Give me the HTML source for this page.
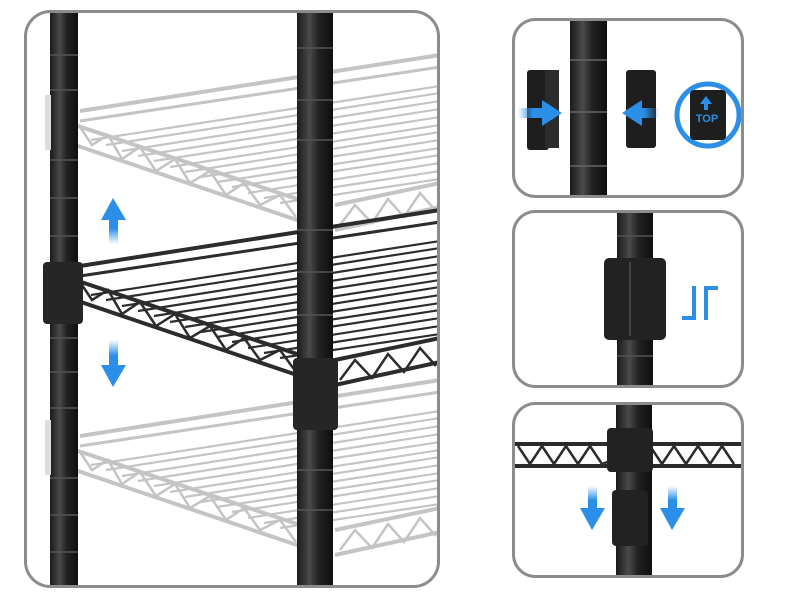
<!DOCTYPE html>
<html><head><meta charset="utf-8"><style>
html,body{margin:0;padding:0;background:#fff;width:800px;height:600px;overflow:hidden}
</style></head><body>
<svg width="800" height="600" viewBox="0 0 800 600" xmlns="http://www.w3.org/2000/svg">
<defs>
<linearGradient id="pole" x1="0" x2="1"><stop offset="0" stop-color="#1a1a1a"/><stop offset="0.35" stop-color="#4a4a4a"/><stop offset="0.6" stop-color="#222"/><stop offset="1" stop-color="#0e0e0e"/></linearGradient>
<linearGradient id="au" x1="0" y1="1" x2="0" y2="0"><stop offset="0" stop-color="#2b8fe8" stop-opacity="0"/><stop offset="0.6" stop-color="#2b8fe8"/></linearGradient>
<linearGradient id="ad" x1="0" y1="0" x2="0" y2="1"><stop offset="0" stop-color="#2b8fe8" stop-opacity="0"/><stop offset="0.6" stop-color="#2b8fe8"/></linearGradient>
<linearGradient id="ar" x1="0" x2="1"><stop offset="0" stop-color="#2b8fe8" stop-opacity="0"/><stop offset="0.6" stop-color="#2b8fe8"/></linearGradient>
<linearGradient id="al" x1="1" x2="0"><stop offset="0" stop-color="#2b8fe8" stop-opacity="0"/><stop offset="0.6" stop-color="#2b8fe8"/></linearGradient>
<clipPath id="cl"><rect x="26" y="12" width="412" height="574" rx="24"/></clipPath>
<clipPath id="c1"><rect x="514" y="20" width="228" height="176" rx="20"/></clipPath>
<clipPath id="c2"><rect x="514" y="212" width="228" height="174" rx="20"/></clipPath>
<clipPath id="c3"><rect x="514" y="404" width="228" height="172" rx="20"/></clipPath>
<g id="shelf" fill="none" stroke="currentColor">
<line x1="80" y1="266" x2="440" y2="210" stroke-width="4"/>
<line x1="80" y1="276" x2="440" y2="222" stroke-width="3"/>
<line x1="75" y1="280" x2="300" y2="355" stroke-width="4"/>
<line x1="75" y1="300" x2="300" y2="376" stroke-width="4"/>
<polyline points="80,282 92,300 108,290 122,314 140,302 156,326 175,314 190,338 210,326 226,350 244,338 260,360 280,350 296,372" stroke-width="2.5"/>
<line x1="335" y1="360" x2="440" y2="338" stroke-width="4"/>
<line x1="335" y1="385" x2="440" y2="362" stroke-width="4"/>
<polyline points="340,380 355,360 372,378 388,354 404,372 420,348 436,366" stroke-width="2.5"/>
<g stroke-width="2.2">
<line x1="91" y1="295" x2="440" y2="241"/><line x1="106" y1="300" x2="440" y2="248"/><line x1="122" y1="306" x2="440" y2="256"/><line x1="138" y1="311" x2="440" y2="264"/><line x1="154" y1="316" x2="440" y2="272"/><line x1="170" y1="322" x2="440" y2="280"/><line x1="185" y1="327" x2="440" y2="287"/><line x1="201" y1="332" x2="440" y2="295"/><line x1="217" y1="337" x2="440" y2="303"/><line x1="232" y1="342" x2="440" y2="310"/><line x1="248" y1="348" x2="440" y2="318"/><line x1="264" y1="353" x2="440" y2="326"/><line x1="280" y1="358" x2="440" y2="334"/>
</g>
</g>
</defs>

<g clip-path="url(#cl)">
<rect x="26" y="12" width="412" height="574" fill="#fff"/>
<use href="#shelf" transform="translate(0,-155)" style="color:#c4c4c4"/>
<use href="#shelf" transform="translate(0,170)" style="color:#c4c4c4"/>
<use href="#shelf" style="color:#2c2c2c"/>
<rect x="50" y="10" width="28" height="580" fill="url(#pole)"/>
<g stroke="#555" stroke-width="1.5">
<line x1="50" y1="55" x2="78" y2="55"/><line x1="50" y1="90" x2="78" y2="90"/><line x1="50" y1="160" x2="78" y2="160"/><line x1="50" y1="198" x2="78" y2="198"/><line x1="50" y1="236" x2="78" y2="236"/><line x1="50" y1="338" x2="78" y2="338"/><line x1="50" y1="372" x2="78" y2="372"/><line x1="50" y1="408" x2="78" y2="408"/><line x1="50" y1="478" x2="78" y2="478"/><line x1="50" y1="515" x2="78" y2="515"/><line x1="50" y1="552" x2="78" y2="552"/>
</g>
<rect x="45" y="95" width="6" height="55" fill="#ddd"/><rect x="45" y="420" width="6" height="55" fill="#ddd"/>
<rect x="43" y="262" width="40" height="62" rx="4" fill="#262626"/>
<rect x="297" y="10" width="36" height="580" fill="url(#pole)"/>
<g stroke="#555" stroke-width="1.5">
<line x1="297" y1="48" x2="333" y2="48"/><line x1="297" y1="100" x2="333" y2="100"/><line x1="297" y1="140" x2="333" y2="140"/><line x1="297" y1="230" x2="333" y2="230"/><line x1="297" y1="272" x2="333" y2="272"/><line x1="297" y1="315" x2="333" y2="315"/><line x1="297" y1="470" x2="333" y2="470"/><line x1="297" y1="510" x2="333" y2="510"/>
</g>
<rect x="293" y="358" width="45" height="72" rx="4" fill="#262626"/>
<rect x="109" y="218" width="9" height="26" fill="url(#au)"/>
<polygon points="113,198 101,220 126,220" fill="#2b8fe8"/>
<rect x="109" y="340" width="9" height="26" fill="url(#ad)"/>
<polygon points="113,387 101,365 126,365" fill="#2b8fe8"/>
</g>
<rect x="25.5" y="11.5" width="413" height="575" rx="25" fill="none" stroke="#8c8c8c" stroke-width="3"/>

<g clip-path="url(#c1)">
<rect x="514" y="20" width="228" height="176" fill="#fff"/>
<rect x="570" y="18" width="37" height="182" fill="url(#pole)"/>
<g stroke="#666" stroke-width="1.5"><line x1="570" y1="60" x2="607" y2="60"/><line x1="570" y1="112" x2="607" y2="112"/><line x1="570" y1="166" x2="607" y2="166"/></g>
<rect x="527" y="70" width="22" height="80" rx="3" fill="#1e1e1e"/><rect x="545" y="70" width="14" height="78" fill="#2c2c2c"/>
<rect x="626" y="70" width="30" height="78" rx="3" fill="#1e1e1e"/>
<rect x="518" y="108" width="25" height="10" fill="url(#ar)"/><polygon points="562,113 542,100 542,126" fill="#2b8fe8"/>
<rect x="634" y="108" width="25" height="10" fill="url(#al)"/><polygon points="622,113 642,100 642,126" fill="#2b8fe8"/>
<circle cx="708" cy="115" r="31" fill="#fff" stroke="#2b8fe8" stroke-width="5"/>
<rect x="690" y="90" width="36" height="50" rx="4" fill="#1e1e1e"/>
<polygon points="706,96 700,104 704,104 704,110 708,110 708,104 712,104" fill="#2b8fe8"/>
<text x="707" y="122" text-anchor="middle" font-family="Liberation Sans, sans-serif" font-weight="bold" font-size="11" fill="#2b8fe8">TOP</text>
</g>
<rect x="513.5" y="19.5" width="229" height="177" rx="22" fill="none" stroke="#8c8c8c" stroke-width="3"/>

<g clip-path="url(#c2)">
<rect x="514" y="212" width="228" height="174" fill="#fff"/>
<rect x="617" y="210" width="36" height="180" fill="url(#pole)"/>
<g stroke="#555" stroke-width="1.5"><line x1="617" y1="236" x2="653" y2="236"/><line x1="617" y1="356" x2="653" y2="356"/></g>
<rect x="604" y="258" width="62" height="82" rx="5" fill="#222"/>
<line x1="630" y1="262" x2="630" y2="336" stroke="#444" stroke-width="2"/>
<g fill="none" stroke="#2b8fe8" stroke-width="4">
<polyline points="694,286 694,318 682,318"/><polyline points="706,320 706,288 718,288"/>
</g>
</g>
<rect x="513.5" y="211.5" width="229" height="175" rx="22" fill="none" stroke="#8c8c8c" stroke-width="3"/>

<g clip-path="url(#c3)">
<rect x="514" y="404" width="228" height="172" fill="#fff"/>
<g stroke="#2a2a2a" fill="none">
<line x1="514" y1="444" x2="742" y2="444" stroke-width="4"/>
<line x1="514" y1="466" x2="742" y2="466" stroke-width="4"/>
<polyline points="518,446 530,464 542,446 554,464 566,446 578,464 590,446 602,464 650,446 662,464 674,446 686,464 698,446 710,464 722,446 734,464" stroke-width="2.5"/>
</g>
<rect x="616" y="400" width="36" height="180" fill="url(#pole)"/>
<rect x="607" y="428" width="46" height="44" rx="4" fill="#222"/>
<rect x="612" y="490" width="36" height="56" rx="4" fill="#222"/>
<rect x="588" y="486" width="9" height="24" fill="url(#ad)"/><polygon points="592,530 580,508 605,508" fill="#2b8fe8"/>
<rect x="668" y="486" width="9" height="24" fill="url(#ad)"/><polygon points="672,530 660,508 685,508" fill="#2b8fe8"/>
</g>
<rect x="513.5" y="403.5" width="229" height="173" rx="22" fill="none" stroke="#8c8c8c" stroke-width="3"/>
</svg>
</body></html>
